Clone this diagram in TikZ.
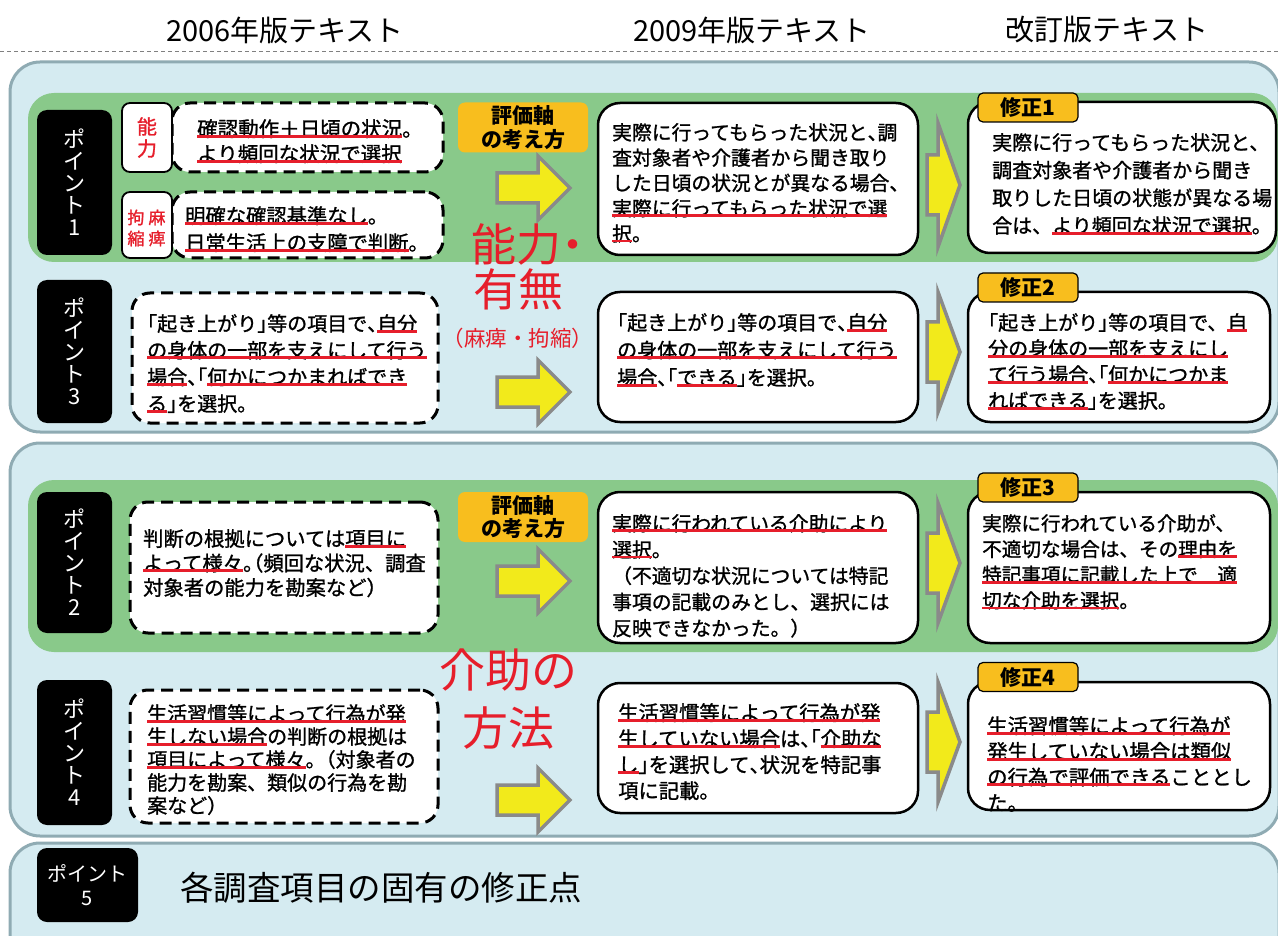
\documentclass[tikz,border=0pt]{standalone}
\usepackage{fontspec}
\setmainfont{Noto Sans CJK JP}[UprightFeatures={FakeBold=1.2}]
\newfontfamily\plainf{Noto Sans CJK JP}
\usetikzlibrary{positioning}
\definecolor{panelbg}{HTML}{D5EBF1}
\definecolor{panelln}{HTML}{8FABB3}
\definecolor{bandgr}{HTML}{89C98A}
\definecolor{tabor}{HTML}{F8BE1E}
\definecolor{ulred}{HTML}{E61E2B}
\definecolor{arryel}{HTML}{F2EA1B}
\definecolor{arrgr}{HTML}{8A8A8A}
\newcommand\redln[1]{\setbox0\hbox{#1}\copy0\llap{\color{ulred}\rule[-0.07em]{\wd0}{0.14em}}}
\newcommand\hw[1]{{\addfontfeature{RawFeature=+halt}#1}}
\newcommand\fsz[2]{\fontsize{#1}{#2}\selectfont}

\begin{document}
\begin{tikzpicture}[x=1pt,y=-1pt,
  panel/.style={draw=panelln,line width=3pt,fill=panelbg,rounded corners=30pt},
  band/.style={fill=bandgr,rounded corners=26pt},
  ptbox/.style={fill=black,text=white,rounded corners=10pt,inner sep=0pt,align=center,font=\plainf\fsz{22}{22}},
  dbox/.style={draw,line width=3pt,dash pattern=on 12pt off 7pt,fill=white,rounded corners=18pt,inner sep=0pt},
  sbox/.style={draw,line width=2.5pt,fill=white,rounded corners=22pt,inner sep=0pt},
  lbox/.style={draw,line width=1.8pt,fill=white,rounded corners=8pt,inner sep=0pt},
  tabbox/.style={draw,line width=1.2pt,fill=tabor,rounded corners=5pt,inner sep=0pt,font=\bfseries\fsz{21}{21}},
  evalbox/.style={fill=tabor,rounded corners=7pt,inner sep=0pt,align=center,font=\bfseries\fsz{21}{23.5}},
  txt/.style={anchor=north west,inner sep=0pt,align=left},
  yarr/.style={fill=arryel,draw=arrgr,line width=3.5pt},
  bigred/.style={text=ulred,inner sep=0pt,font=\plainf\fsz{45}{45}}]
  \fill[white] (0,0) rectangle (1278,936);
  \useasboundingbox (0,0) rectangle (1278,936);
  % column heads
  \node (h06) at (285,30) {\plainf\fsz{29}{30}2006年版テキスト};
  \node (h09) at (752,30) {\plainf\fsz{29}{30}2009年版テキスト};
  \node (hkai) at (1107,30) {\plainf\fsz{29}{30}改訂版テキスト};
  \draw[gray,line width=1pt,dash pattern=on 4pt off 3pt] (0,52) -- (1278,52);
  % panels
  \draw[panel] (10,62) rectangle (1279,432);
  \draw[panel] (10,443) rectangle (1279,836);
  \draw[panel] (10,843) rectangle (1279,990);
  \fill[band] (28,93) rectangle (1278,262);
  \fill[band] (28,480) rectangle (1278,652);
  % point 1
  \node[ptbox,minimum width=75,minimum height=145] (p1) at (74.5,182.5) {ポ\\イ\\ン\\ト\\1};
  \node[dbox,minimum width=271,minimum height=69] (d1a) at (307.5,137.5) {};
  \node[txt,font=\fsz{20.5}{25}] (d1atx) at (197,119) {\redln{確認動作＋日頃の状況}。\\\redln{より頻回な状況で選択}};
  \node[dbox,minimum width=271,minimum height=66] (d1b) at (307.5,225) {};
  \node[txt,font=\fsz{20.3}{27}] (d1btx) at (185,206) {\redln{明確な確認基準なし}。\\\redln{日常生活上の支障で判断}。};
  \node[lbox,minimum width=50,minimum height=69,text=ulred,align=center,font=\fsz{20}{22}] (nouryoku) at (147,137.5) {能\\力};
  \node[lbox,minimum width=50,minimum height=66] (mahi) at (147,225) {};
  \node[text=ulred,align=center,inner sep=0pt,font=\fsz{17}{21}] (mahiR) at (157,228) {麻\\痺};
  \node[text=ulred,align=center,inner sep=0pt,font=\fsz{17}{21}] (mahiL) at (136,228) {拘\\縮};
  \node[evalbox,minimum width=130,minimum height=50] (hyoka1) at (523,127.5) {評価軸\\の考え方};
  \draw[yarr] (497,173) -- (538,173) -- (538,156) -- (570,188) -- (538,220) -- (538,203) -- (497,203) -- cycle;
  \node[sbox,minimum width=320,minimum height=152] (b09a) at (758,179) {};
  \node[txt,font=\fsz{19.8}{25.3}] (b09atx) at (612,123) {実際に行ってもらった状況と\hw{、}調\\査対象者や介護者から聞き取り\\した日頃の状況とが異なる場合、\\\redln{実際に行ってもらった状況で選}\\\redln{択}。};
  \draw[yarr] (927,155) -- (938,155) -- (938,123) -- (960,185) -- (938,247) -- (938,215) -- (927,215) -- cycle;
  \node[sbox,minimum width=308,minimum height=151] (m1) at (1122,177.5) {};
  \node[tabbox,minimum width=100,minimum height=29] (tab1) at (1028,107.5) {修正1};
  \node[txt,font=\fsz{20}{27.7}] (m1tx) at (992,133) {実際に行ってもらった状況と、\\調査対象者や介護者から聞き\\取りした日頃の状態が異なる場\\合は、\redln{より頻回な状況で選択}。};
  % point 3
  \node[ptbox,minimum width=75,minimum height=143] (p3) at (74.5,351.5) {ポ\\イ\\ン\\ト\\3};
  \node[dbox,minimum width=306,minimum height=130] (d3) at (285,358) {};
  \node[txt,font=\fsz{20}{26.7}] (d3tx) at (147,314) {\hw{「}起き上がり\hw{」}等の項目で\hw{、}\redln{自分}\\\redln{の身体の一部を支えにして行う}\\\redln{場合}\hw{、「}\redln{何かにつかまればでき}\\\redln{る}\hw{」}を選択。};
  \node[bigred] (nou) at (528,244) {能力\hw{・}};
  \node[bigred] (umu) at (518,289) {有無};
  \node[bigred,font=\plainf\fsz{21.5}{21.5}] (mahikou) at (518,338) {（麻痺・拘縮）};
  \draw[yarr] (497,377) -- (538,377) -- (538,360) -- (570,392) -- (538,424) -- (538,407) -- (497,407) -- cycle;
  \node[sbox,minimum width=320,minimum height=130] (b09c) at (758,357) {};
  \node[txt,font=\fsz{20}{27.5}] (b09ctx) at (617,313) {\hw{「}起き上がり\hw{」}等の項目で\hw{、}\redln{自分}\\\redln{の身体の一部を支えにして行う}\\\redln{場合}\hw{、「}\redln{できる}\hw{」}を選択。};
  \draw[yarr] (927,322) -- (938,322) -- (938,292) -- (960,352) -- (938,412) -- (938,382) -- (927,382) -- cycle;
  \node[sbox,minimum width=302,minimum height=130] (m2) at (1119,357) {};
  \node[tabbox,minimum width=100,minimum height=29] (tab2) at (1028,287.5) {修正2};
  \node[txt,font=\fsz{20}{26}] (m2tx) at (988,313) {\hw{「}起き上がり\hw{」}等の項目で、\redln{自}\\\redln{分の身体の一部を支えにし}\\\redln{て行う場合}\hw{、「}\redln{何かにつかま}\\\redln{ればできる}\hw{」}を選択。};
  % point 2
  \node[ptbox,minimum width=75,minimum height=141] (p2) at (74.5,562.5) {ポ\\イ\\ン\\ト\\2};
  \node[dbox,minimum width=308,minimum height=131] (d2) at (284,567.5) {};
  \node[txt,font=\fsz{20.3}{24.5}] (d2tx) at (143,529) {判断の根拠については\redln{項目に}\\\redln{よって様々}\hw{。（}頻回な状況、調査\\対象者の能力を勘案など）};
  \node[evalbox,minimum width=130,minimum height=50] (hyoka2) at (523,517) {評価軸\\の考え方};
  \draw[yarr] (497,566) -- (538,566) -- (538,549) -- (570,581) -- (538,613) -- (538,596) -- (497,596) -- cycle;
  \node[sbox,minimum width=320,minimum height=151] (b09b) at (758,567.5) {};
  \node[txt,font=\fsz{19.8}{26.2}] (b09btx) at (612,514) {\redln{実際に行われている介助により}\\\redln{選択}。\\（不適切な状況については特記\\事項の記載のみとし、選択には\\反映できなかった。）};
  \draw[yarr] (927,533) -- (938,533) -- (938,503) -- (960,563) -- (938,623) -- (938,593) -- (927,593) -- cycle;
  \node[sbox,minimum width=302,minimum height=151] (m3) at (1119,567.5) {};
  \node[tabbox,minimum width=100,minimum height=29] (tab3) at (1028,487.5) {修正3};
  \node[txt,font=\fsz{19.6}{25.7}] (m3tx) at (982,514) {実際に行われている介助が、\\不適切な場合は、その\redln{理由を}\\\redln{特記事項に記載した上で　適}\\\redln{切な介助を選択}。};
  % point 4
  \node[bigred,font=\plainf\fsz{46}{46}] (kaijo) at (508,670) {介助の};
  \node[bigred,font=\plainf\fsz{46}{46}] (hoho) at (508,728) {方法};
  \node[ptbox,minimum width=75,minimum height=145] (p4) at (74.5,752.5) {ポ\\イ\\ン\\ト\\4};
  \node[dbox,minimum width=308,minimum height=133] (d4) at (284,756.5) {};
  \node[txt,font=\fsz{20}{23}] (d4tx) at (147,704) {\redln{生活習慣等によって行為が発}\\\redln{生しない場合}の判断の根拠は\\\redln{項目によって様々}\hw{。}（対象者の\\能力を勘案、類似の行為を勘\\案など）};
  \draw[yarr] (497,785) -- (538,785) -- (538,768) -- (570,800) -- (538,832) -- (538,815) -- (497,815) -- cycle;
  \node[sbox,minimum width=320,minimum height=130] (b09d) at (758,748) {};
  \node[txt,font=\fsz{20.3}{26}] (b09dtx) at (618,703) {\redln{生活習慣等によって行為が発}\\\redln{生していない場合}は\hw{、「}\redln{介助な}\\\redln{し}\hw{」}を選択して\hw{、}状況を特記事\\項に記載。};
  \draw[yarr] (927,712) -- (938,712) -- (938,682) -- (960,742) -- (938,802) -- (938,772) -- (927,772) -- cycle;
  \node[sbox,minimum width=302,minimum height=128] (m4) at (1119,746) {};
  \node[tabbox,minimum width=100,minimum height=29] (tab4) at (1028,677) {修正4};
  \node[txt,font=\fsz{20.4}{25.7}] (m4tx) at (987,716) {\redln{生活習慣等によって行為が}\\\redln{発生していない場合は類似}\\\redln{の行為で評価できる}こととし\\た。};
  % point 5
  \node[ptbox,minimum width=101,minimum height=74,font=\plainf\fsz{20}{24}] (p5) at (87.5,885) {ポイント\\5};
  \node[anchor=west,inner sep=0pt,font=\plainf\fsz{33.5}{33.5}] (kotei) at (180,888) {各調査項目の固有の修正点};
\end{tikzpicture}
\end{document}
